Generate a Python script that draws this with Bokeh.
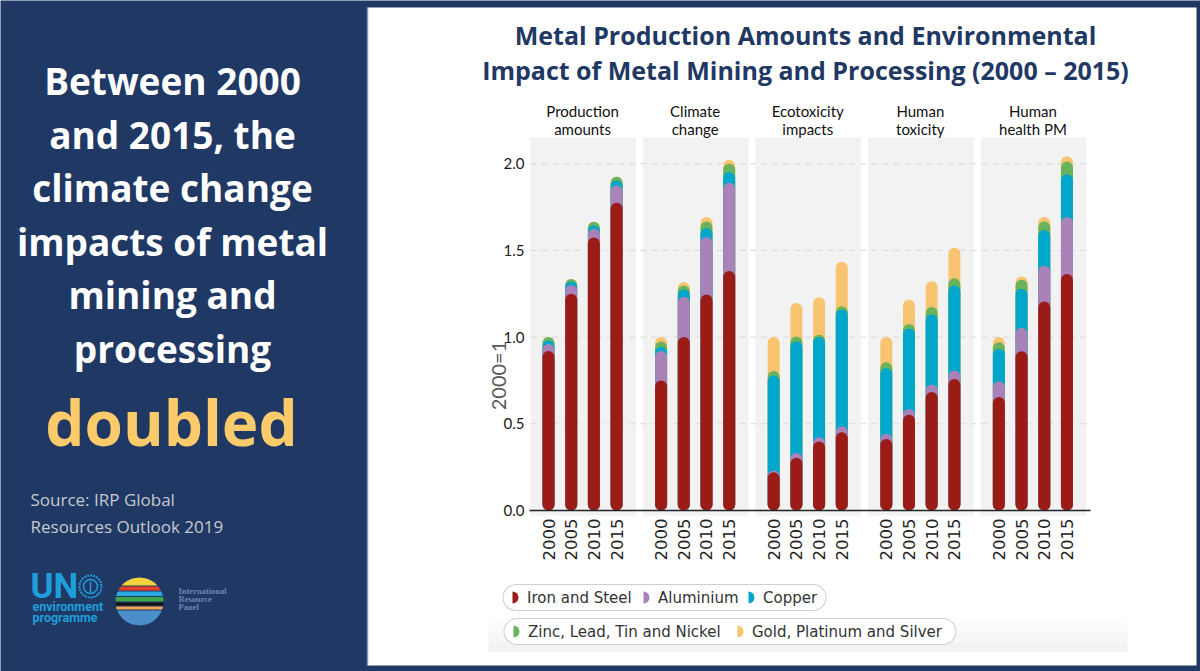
import numpy as np
from bokeh.plotting import figure
from bokeh.models import Range1d, ColumnDataSource
from bokeh.core.properties import value
from bokeh.embed import file_html
from bokeh.resources import INLINE

# ---------------- data ----------------
categories = ["Production\namounts", "Climate\nchange", "Ecotoxicity\nimpacts",
              "Human\ntoxicity", "Human\nhealth PM"]
years = ["2000", "2005", "2010", "2015"]
series_names = ["Iron and Steel", "Aluminium", "Copper",
                "Zinc, Lead, Tin and Nickel", "Gold, Platinum and Silver"]
series_colors = ["#9b1b17", "#a882b8", "#00a7cb", "#69b35c", "#f9c46f"]

# values per category (in order above) x year (2000, 2005, 2010, 2015); index 2000 = 1
iron_steel = [0.92, 1.25, 1.575, 1.775,
              0.75, 1.00, 1.246, 1.381,
              0.221, 0.304, 0.398, 0.451,
              0.413, 0.552, 0.683, 0.759,
              0.654, 0.919, 1.205, 1.364]
aluminium = [0.04, 0.05, 0.05, 0.10,
             0.17, 0.233, 0.331, 0.509,
             0.01, 0.028, 0.025, 0.035,
             0.029, 0.034, 0.044, 0.049,
             0.092, 0.135, 0.207, 0.328]
copper = [0.02, 0.02, 0.02, 0.03,
          0.025, 0.042, 0.052, 0.062,
          0.548, 0.644, 0.577, 0.673,
          0.38, 0.464, 0.404, 0.49,
          0.187, 0.225, 0.206, 0.247]
zinc_lead_tin_nickel = [0.02, 0.015, 0.02, 0.02,
                        0.03, 0.023, 0.038, 0.048,
                        0.025, 0.027, 0.014, 0.019,
                        0.033, 0.025, 0.042, 0.042,
                        0.038, 0.052, 0.049, 0.073]
gold_platinum_silver = [0.0, 0.0, 0.0, 0.0,
                        0.025, 0.02, 0.025, 0.023,
                        0.196, 0.194, 0.216, 0.257,
                        0.145, 0.141, 0.149, 0.175,
                        0.029, 0.019, 0.025, 0.031]
series_values = [iron_steel, aluminium, copper, zinc_lead_tin_nickel, gold_platinum_silver]

y_ticks = [0.0, 0.5, 1.0, 1.5, 2.0]
y_tick_labels = ["0.0", "0.5", "1.0", "1.5", "2.0"]
y_axis_label = "2000=1"

title_lines = ["Metal Production Amounts and Environmental",
               "Impact of Metal Mining and Processing (2000 \u2013 2015)"]
headline_lines = ["Between 2000", "and 2015, the", "climate change",
                  "impacts of metal", "mining and", "processing"]
highlight_word = "doubled"
source_lines = ["Source: IRP Global", "Resources Outlook 2019"]

# ---------------- layout / style ----------------
W, H = 1200, 671
NAVY = "#1f3864"
ZERO_PX = 510.0        # pixel row of value 0
PX_PER_UNIT = 173.4    # pixels per index unit
FIRST_PX = 548.0       # pixel column of first bar
STEP_PX = 22.7         # pixels between bars
STRIDE = 4.96          # bar slots per category group
BAR_W = 12

p = figure(width=W, height=H, x_range=Range1d(0, W), y_range=Range1d(H, 0),
           x_axis_type=None, y_axis_type=None, toolbar_location=None,
           output_backend="svg", min_border=0, outline_line_color=None,
           background_fill_color=NAVY, border_fill_color=NAVY, title=None)
p.extra_x_ranges = {"cat": Range1d(-FIRST_PX / STEP_PX, (W - FIRST_PX) / STEP_PX)}
p.extra_y_ranges = {"val": Range1d(-(H - ZERO_PX) / PX_PER_UNIT, ZERO_PX / PX_PER_UNIT)}
D = dict(x_range_name="cat", y_range_name="val")

# white card
p.quad(left=367, right=1196, top=7, bottom=665, fill_color="white", line_color=None)
p.segment(x0=367, y0=7, x1=367, y1=665, line_color="#8092bd", line_width=1.5)
for (t, b, c) in ((622, 632, "#fbfbfb"), (632, 642, "#f7f7f7"), (642, 651, "#f2f2f2")):
    p.quad(left=488, right=1127, top=t, bottom=b, fill_color=c, line_color=None)

# panels
ng = len(categories)
gx = [g * STRIDE for g in range(ng)]
p.quad(left=[x - 0.8 for x in gx], right=[x + 3.85 for x in gx],
       bottom=-5 / PX_PER_UNIT, top=(ZERO_PX - 137) / PX_PER_UNIT,
       fill_color="#f2f2f2", line_color=None, **D)

# gridlines
gx0, gx1 = -0.8, (1090 - FIRST_PX) / STEP_PX
grid_t = [t for t in y_ticks if t > 0]
p.segment(x0=gx0, x1=gx1, y0=grid_t, y1=grid_t, line_color="#d9d9d9",
          line_width=1, line_dash="6 5", **D)

# bars: rounded capsules, drawn from the outermost cumulative layer down
xs = [g * STRIDE + i for g in range(ng) for i in range(len(years))]
r = (BAR_W / 2) / PX_PER_UNIT
cum = np.cumsum(np.array(series_values), axis=0)
for k in range(len(series_values) - 1, -1, -1):
    top = cum[k]
    y1 = np.maximum(top - r, r)
    src = ColumnDataSource(dict(x=xs, y0=[r] * len(xs), y1=list(y1)))
    p.segment(x0="x", x1="x", y0="y0", y1="y1", source=src,
              line_color=series_colors[k], line_width=BAR_W, line_cap="round", **D)

# axis line
p.segment(x0=(529 - FIRST_PX) / STEP_PX, x1=gx1, y0=0, y1=0,
          line_color="#222222", line_width=1.5, **D)

# y tick labels
p.text(x=(524 - FIRST_PX) / STEP_PX, y=y_ticks, text=y_tick_labels,
       text_align="right", text_baseline="middle", text_font=value("Lato"),
       text_font_size="15px", text_color="#1a1a1a", **D)
# y axis label
p.text(x=[497], y=[375], text=[y_axis_label], angle=np.pi / 2,
       text_align="center", text_baseline="middle", text_font=value("Lato"),
       text_font_size="20px", text_color="#5a5a5a")

# year labels
p.text(x=xs, y=-8 / PX_PER_UNIT, text=years * ng, angle=np.pi / 2,
       text_align="right", text_baseline="middle", text_font=value("DejaVu Sans"),
       text_font_size="16.5px", text_color="#222222", **D)

# category headers
centers = [x + 1.5 for x in gx]
l1 = [c.split("\n")[0] for c in categories]
l2 = [c.split("\n")[1] for c in categories]
for lines, ypx in ((l1, 110), (l2, 128)):
    p.text(x=centers, y=(ZERO_PX - ypx) / PX_PER_UNIT, text=lines,
           text_align="center", text_baseline="middle", text_font=value("Lato"),
           text_font_size="15px", text_color="#111111", **D)

# chart title
p.text(x=805, y=[34, 69], text=title_lines, text_align="center",
       text_baseline="middle", text_font=value("Open Sans"),
       text_font_style="bold", text_font_size="25px", text_color=NAVY)

# legend (two pill rows)
pill_rows = [(502, 826, 597), (503, 956, 631)]
for (a, b, yy) in pill_rows:
    p.segment(x0=a + 13.5, x1=b - 13.5, y0=yy, y1=yy, line_color="#cfcfcf",
              line_width=27, line_cap="round")
    p.segment(x0=a + 13.5, x1=b - 13.5, y0=yy, y1=yy, line_color="white",
              line_width=25, line_cap="round")
leg_x = [512, 643, 748, 513, 737]
leg_y = [597, 597, 597, 631, 631]
p.wedge(x=leg_x, y=leg_y, radius=6, radius_units="screen",
        start_angle=-np.pi / 2, end_angle=np.pi / 2,
        fill_color=series_colors, line_color=None)
p.text(x=[x + 14.5 for x in leg_x], y=leg_y, text=series_names,
       text_align="left", text_baseline="middle", text_font=value("DejaVu Sans"),
       text_font_size="15px", text_color="#333333")

# left panel text
p.text(x=172, y=[80 + 53.5 * i for i in range(len(headline_lines))],
       text=headline_lines, text_align="center", text_baseline="middle",
       text_font=value("Open Sans"), text_font_style="bold",
       text_font_size="37px", text_color="white")
p.text(x=[171], y=[421], text=[highlight_word], text_align="center",
       text_baseline="middle", text_font=value("Open Sans"),
       text_font_style="bold", text_font_size="62px", text_color="#fbcb6b")
p.text(x=30, y=[499, 526], text=source_lines, text_align="left",
       text_baseline="middle", text_font=value("Open Sans"),
       text_font_size="17px", text_color="#c6c9cf")

# logos
UNB = "#1e9fdb"
p.text(x=[30], y=[586], text=["UN"], text_font=value("Roboto"), text_font_style="bold",
       text_font_size="35px", text_color=UNB, text_baseline="middle")
p.circle(x=[90], y=[586], radius=11, radius_units="screen", fill_color=None,
         line_color=UNB, line_width=2, line_dash="2 1")
p.circle(x=[90], y=[586], radius=7, radius_units="screen", fill_color=None,
         line_color=UNB, line_width=1.5)
p.segment(x0=[90], x1=[90], y0=[581], y1=[592], line_color=UNB, line_width=1.5)
p.text(x=[32, 32], y=[606, 617], text=["environment", "programme"],
       text_font=value("Roboto"), text_font_style="bold", text_font_size="12.5px",
       text_color=UNB, text_baseline="middle")

cx, cy, R = 139, 601, 24
bands = [(-24, -16, "#f3d33b"), (-15, -11, "#e4402f"), (-10, -5.5, "#2aa9e1"),
         (-4.5, 0, "#3ba64a"), (1, 4, "#151515"), (5, 8, "#f2a552"), (9, 24, "#4b8fca")]
bxs, bys, bcs = [], [], []
for a, b, c in bands:
    t = np.linspace(a, b, 12)
    w = np.sqrt(np.clip(R ** 2 - t ** 2, 0, None))
    bxs.append(list(cx - w) + list((cx + w)[::-1]))
    bys.append(list(cy + t) + list((cy + t)[::-1]))
    bcs.append(c)
p.patches(xs=bxs, ys=bys, fill_color=bcs, line_color=None)
p.text(x=178, y=[590, 598, 606], text=["International", "Resource", "Panel"],
       text_font=value("Liberation Serif"), text_font_style="bold",
       text_font_size="8.5px", text_color="#7083b5", text_baseline="middle")

open("out.html", "w").write(file_html(p, INLINE))
